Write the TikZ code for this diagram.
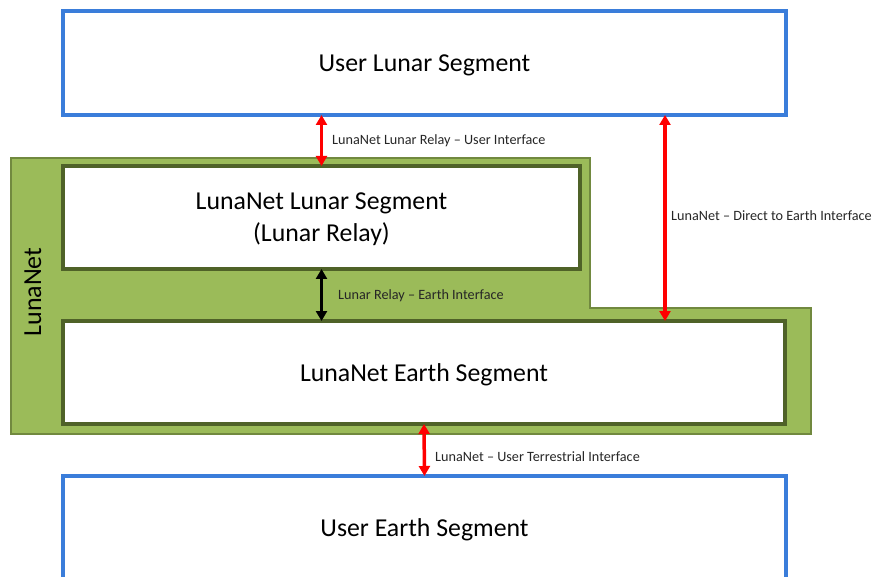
\documentclass[tikz,border=0pt]{standalone}
\usepackage{fontspec}
\setmainfont{Carlito}
\usetikzlibrary{arrows.meta}
\definecolor{segblue}{RGB}{58,125,218}
\definecolor{netgreen}{RGB}{155,187,89}
\definecolor{netedge}{RGB}{113,137,63}
\definecolor{boxedge}{RGB}{79,98,40}
\definecolor{labgray}{RGB}{38,38,38}
\tikzset{
    userbox/.style={draw=segblue,line width=4pt,fill=white,rectangle,outer sep=0pt,text depth=-4pt,
        minimum width=723pt,minimum height=104pt,font=\fontsize{25.8}{30}\selectfont},
    netbox/.style={draw=boxedge,line width=4pt,fill=white,rectangle,outer sep=0pt,text depth=-4pt,
        minimum height=103pt,font=\fontsize{25.8}{32}\selectfont,align=center},
    ifarrow/.style={line width=3.5pt,{Triangle[width=11pt,length=10pt]}-{Triangle[width=11pt,length=10pt]}},
    iflabel/.style={anchor=west,font=\fontsize{14.2}{16}\selectfont,text=labgray,inner sep=0pt}
}
\begin{document}
\begin{tikzpicture}[x=1pt,y=-1pt]
        \useasboundingbox (0,0) rectangle (875,577);
        \clip (0,0) rectangle (875,577);
        %% LunaNet area
        \draw[fill=netgreen,draw=netedge,line width=2pt] (11,158) -- (590,158) -- (590,308)
            -- (811,308) -- (811,434) -- (11,434) -- cycle;
        \node[rotate=90,font=\fontsize{26}{30}\selectfont] (net) at (33,292) {LunaNet};
        %% Segments
        \node[userbox] (ulunar) at (424.5,63) {User Lunar Segment};
        \node[netbox,minimum width=517pt,text depth=-6pt] (lunar) at (321.5,217.5) {LunaNet Lunar Segment\\(Lunar Relay)};
        \node[netbox,minimum width=722pt] (earth) at (424,372.5) {LunaNet Earth Segment};
        \node[userbox] (uearth) at (424.5,528) {User Earth Segment};
        %% Interfaces
        \coordinate (dte) at (665,0);
        \draw[ifarrow,red] (ulunar.south -| lunar.north) -- (lunar.north);
        \node[iflabel] (relayuser) at (332,141) {LunaNet Lunar Relay -- User Interface};
        \draw[ifarrow,red] (ulunar.south -| dte) -- (earth.north -| dte);
        \node[iflabel] (direct) at (671,216) {LunaNet -- Direct to Earth Interface};
        \draw[ifarrow,black] (lunar.south) -- (lunar.south |- earth.north);
        \node[iflabel] (relayearth) at (338,296) {Lunar Relay -- Earth Interface};
        \draw[ifarrow,red] (earth.south) -- (uearth.north);
        \node[iflabel] (terrestrial) at (435,457) {LunaNet -- User Terrestrial Interface};
    \end{tikzpicture}
\end{document}
